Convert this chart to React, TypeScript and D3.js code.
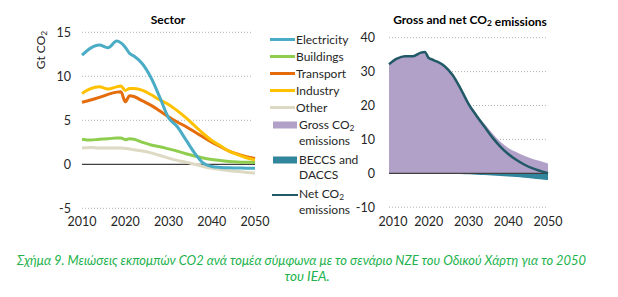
import * as d3 from 'd3';

// Emissions in Gt CO2, NZE pathway
const years = [2010, 2012, 2014, 2016, 2018, 2019, 2020, 2021, 2022, 2024, 2026, 2028, 2030, 2032, 2034, 2036, 2038, 2040, 2042, 2044, 2046, 2048, 2050];

const electricity = [12.4, 13.2, 13.55, 13.25, 14.0, 13.8, 13.3, 12.6, 12.3, 11.4, 9.8, 7.6, 5.3, 4.3, 2.8, 1.3, 0.15, -0.25, -0.35, -0.4, -0.42, -0.45, -0.45];
const buildings = [2.85, 2.75, 2.85, 2.9, 3.0, 3.0, 2.8, 2.9, 2.85, 2.5, 2.2, 2.0, 1.75, 1.5, 1.2, 0.95, 0.72, 0.55, 0.42, 0.33, 0.27, 0.23, 0.2];
const transport = [7.05, 7.3, 7.6, 7.95, 8.2, 8.25, 7.1, 7.8, 7.7, 7.2, 6.7, 6.05, 5.4, 4.8, 4.3, 3.7, 3.1, 2.5, 2.0, 1.5, 1.15, 0.85, 0.65];
const industry = [8.05, 8.6, 8.8, 8.55, 8.8, 8.9, 8.4, 8.6, 8.6, 8.4, 7.9, 7.3, 6.8, 6.1, 5.3, 4.4, 3.5, 2.7, 2.1, 1.5, 1.1, 0.75, 0.5];
const other = [1.85, 1.9, 1.85, 1.85, 1.85, 1.85, 1.8, 1.75, 1.65, 1.5, 1.3, 1.0, 0.7, 0.45, 0.25, 0.0, -0.25, -0.45, -0.6, -0.72, -0.82, -0.92, -1.0];

const gross = [32.2, 33.8, 34.5, 34.5, 35.6, 35.8, 34.0, 33.5, 33.0, 31.7, 29.1, 25.2, 20.9, 17.6, 14.6, 11.8, 9.3, 7.5, 6.3, 5.2, 4.3, 3.6, 2.9];
const removals = [0, 0, 0, 0, 0, 0, 0, 0.02, 0.05, 0.1, 0.15, 0.2, 0.3, 0.4, 0.5, 0.65, 0.8, 0.95, 1.1, 1.3, 1.5, 1.75, 2.0];
const net = [32.2, 33.8, 34.5, 34.5, 35.6, 35.8, 34.0, 33.5, 33.0, 31.6, 29.0, 25.0, 20.5, 17.0, 13.8, 10.6, 7.9, 5.7, 4.0, 2.6, 1.5, 0.7, 0.0];

const xTicks = [2010, 2020, 2030, 2040, 2050];
const sectorTicks = [-5, 0, 5, 10, 15];
const totalTicks = [-10, 0, 10, 20, 30, 40];

const sectors = [
  { name: 'Electricity', color: '#4bacc6', values: electricity },
  { name: 'Buildings', color: '#8fcd4f', values: buildings },
  { name: 'Transport', color: '#e46c0a', values: transport },
  { name: 'Industry', color: '#ffc000', values: industry },
  { name: 'Other', color: '#ddd9c3', values: other },
];

const drawOrder = ['Other', 'Buildings', 'Transport', 'Industry', 'Electricity'];

const FONT = 'Lato, "Open Sans", sans-serif';
const TEXT = '#262626';
const GRID = '#b0b0b0';

const CO2 = () => (
  <>
    CO<tspan fontSize="0.7em" dy="0.25em">2</tspan>
  </>
);

function SectorPanel() {
  const x = d3.scaleLinear().domain([2010, 2050]).range([82, 255]);
  const y = d3.scaleLinear().domain([-5, 15]).range([208.3, 32.3]);
  const line = d3
    .line<number>()
    .x((_d, i) => x(years[i]))
    .y((d) => y(d))
    .curve(d3.curveMonotoneX);

  return (
    <g>
      <text x={168} y={24} textAnchor="middle" fontWeight="bold" fontSize={12} fill="#000">
        Sector
      </text>
      <text transform="translate(45,50) rotate(-90)" textAnchor="middle" fontSize={12} fill={TEXT}>
        Gt <CO2 />
      </text>
      {sectorTicks.map((t) => (
        <g key={t}>
          {t !== 0 && (
            <line x1={82} x2={253} y1={y(t)} y2={y(t)} stroke={GRID} strokeWidth={1} strokeDasharray="1,2" />
          )}
          <text x={71} y={y(t)} dy="0.35em" textAnchor="end" fontSize={12.5} fill={TEXT}>
            {t}
          </text>
        </g>
      ))}
      {xTicks.map((t) => (
        <text key={t} x={x(t)} y={226} textAnchor="middle" fontSize={12.5} fill={TEXT}>
          {t}
        </text>
      ))}
      <line x1={82} x2={255} y1={y(0)} y2={y(0)} stroke="#404040" strokeWidth={1.2} />
      {drawOrder.map((name) => {
        const s = sectors.find((d) => d.name === name)!;
        return (
          <path key={name} d={line(s.values) ?? ''} fill="none" stroke={s.color} strokeWidth={3} strokeLinejoin="round" />
        );
      })}
    </g>
  );
}

function TotalPanel() {
  const x = d3.scaleLinear().domain([2010, 2050]).range([389, 548]);
  const y = d3.scaleLinear().domain([-10, 40]).range([207.2, 37.7]);
  const grossArea = d3
    .area<number>()
    .x((_d, i) => x(years[i]))
    .y0(y(0))
    .y1((d) => y(d))
    .curve(d3.curveMonotoneX);
  const removalArea = d3
    .area<number>()
    .x((_d, i) => x(years[i]))
    .y0(y(0))
    .y1((d) => y(-d))
    .curve(d3.curveMonotoneX);
  const netLine = d3
    .line<number>()
    .x((_d, i) => x(years[i]))
    .y((d) => y(d))
    .curve(d3.curveMonotoneX);

  return (
    <g>
      <text x={470} y={24} textAnchor="middle" fontWeight="bold" fontSize={12} fill="#000">
        Gross and net <CO2 /> emissions
      </text>
      {totalTicks.map((t) => (
        <g key={t}>
          {t !== 0 && (
            <line x1={389} x2={548} y1={y(t)} y2={y(t)} stroke={GRID} strokeWidth={1} strokeDasharray="1,2" />
          )}
          <text x={375} y={y(t)} dy="0.35em" textAnchor="end" fontSize={12.5} fill={TEXT}>
            {t}
          </text>
        </g>
      ))}
      {xTicks.map((t) => (
        <text key={t} x={x(t) + (t === 2010 ? 4 : 0)} y={226} textAnchor="middle" fontSize={12.5} fill={TEXT}>
          {t}
        </text>
      ))}
      <path d={grossArea(gross) ?? ''} fill="#b1a0c7" />
      <path d={removalArea(removals) ?? ''} fill="#31859c" />
      <line x1={389} x2={548} y1={y(0)} y2={y(0)} stroke="#404040" strokeWidth={1.2} />
      <path d={netLine(net) ?? ''} fill="none" stroke="#215967" strokeWidth={2.5} strokeLinejoin="round" />
    </g>
  );
}

function Legend() {
  const rowY = [39.5, 56.5, 73.5, 90.5, 107.5];
  return (
    <g fontSize={12} fill={TEXT}>
      {sectors.map((s, i) => (
        <g key={s.name}>
          <line x1={270} x2={295} y1={rowY[i]} y2={rowY[i]} stroke={s.color} strokeWidth={3} />
          <text x={296} y={rowY[i]} dy="0.35em">
            {s.name}
          </text>
        </g>
      ))}
      <rect x={273} y={121.5} width={24} height={7} fill="#b1a0c7" />
      <text x={299} y={125} dy="0.35em">
        Gross <CO2 />
      </text>
      <text x={299} y={141} dy="0.35em">
        emissions
      </text>
      <rect x={273} y={156.5} width={24} height={7} fill="#31859c" />
      <text x={299} y={159.5} dy="0.35em">
        BECCS and
      </text>
      <text x={299} y={175} dy="0.35em">
        DACCS
      </text>
      <line x1={272} x2={298} y1={195} y2={195} stroke="#215967" strokeWidth={2} />
      <text x={299} y={194} dy="0.35em">
        Net <CO2 />
      </text>
      <text x={299} y={210} dy="0.35em">
        emissions
      </text>
    </g>
  );
}

export default function App() {
  return (
    <svg
      width={618}
      height={297}
      style={{ position: 'absolute', left: 0, top: 0, background: '#fff' }}
      fontFamily={FONT}
    >
      <SectorPanel />
      <TotalPanel />
      <Legend />
      <g fill="#22b24c" fontStyle="italic" fontSize={13.5}>
        <text x={17} y={265} textLength={569} lengthAdjust="spacingAndGlyphs">
          Σχήμα 9. Μειώσεις εκπομπών CO2 ανά τομέα σύμφωνα με το σενάριο NZE του Οδικού Χάρτη για το 2050
        </text>
        <text x={307} y={281} textAnchor="middle">
          του IEA.
        </text>
      </g>
    </svg>
  );
}
